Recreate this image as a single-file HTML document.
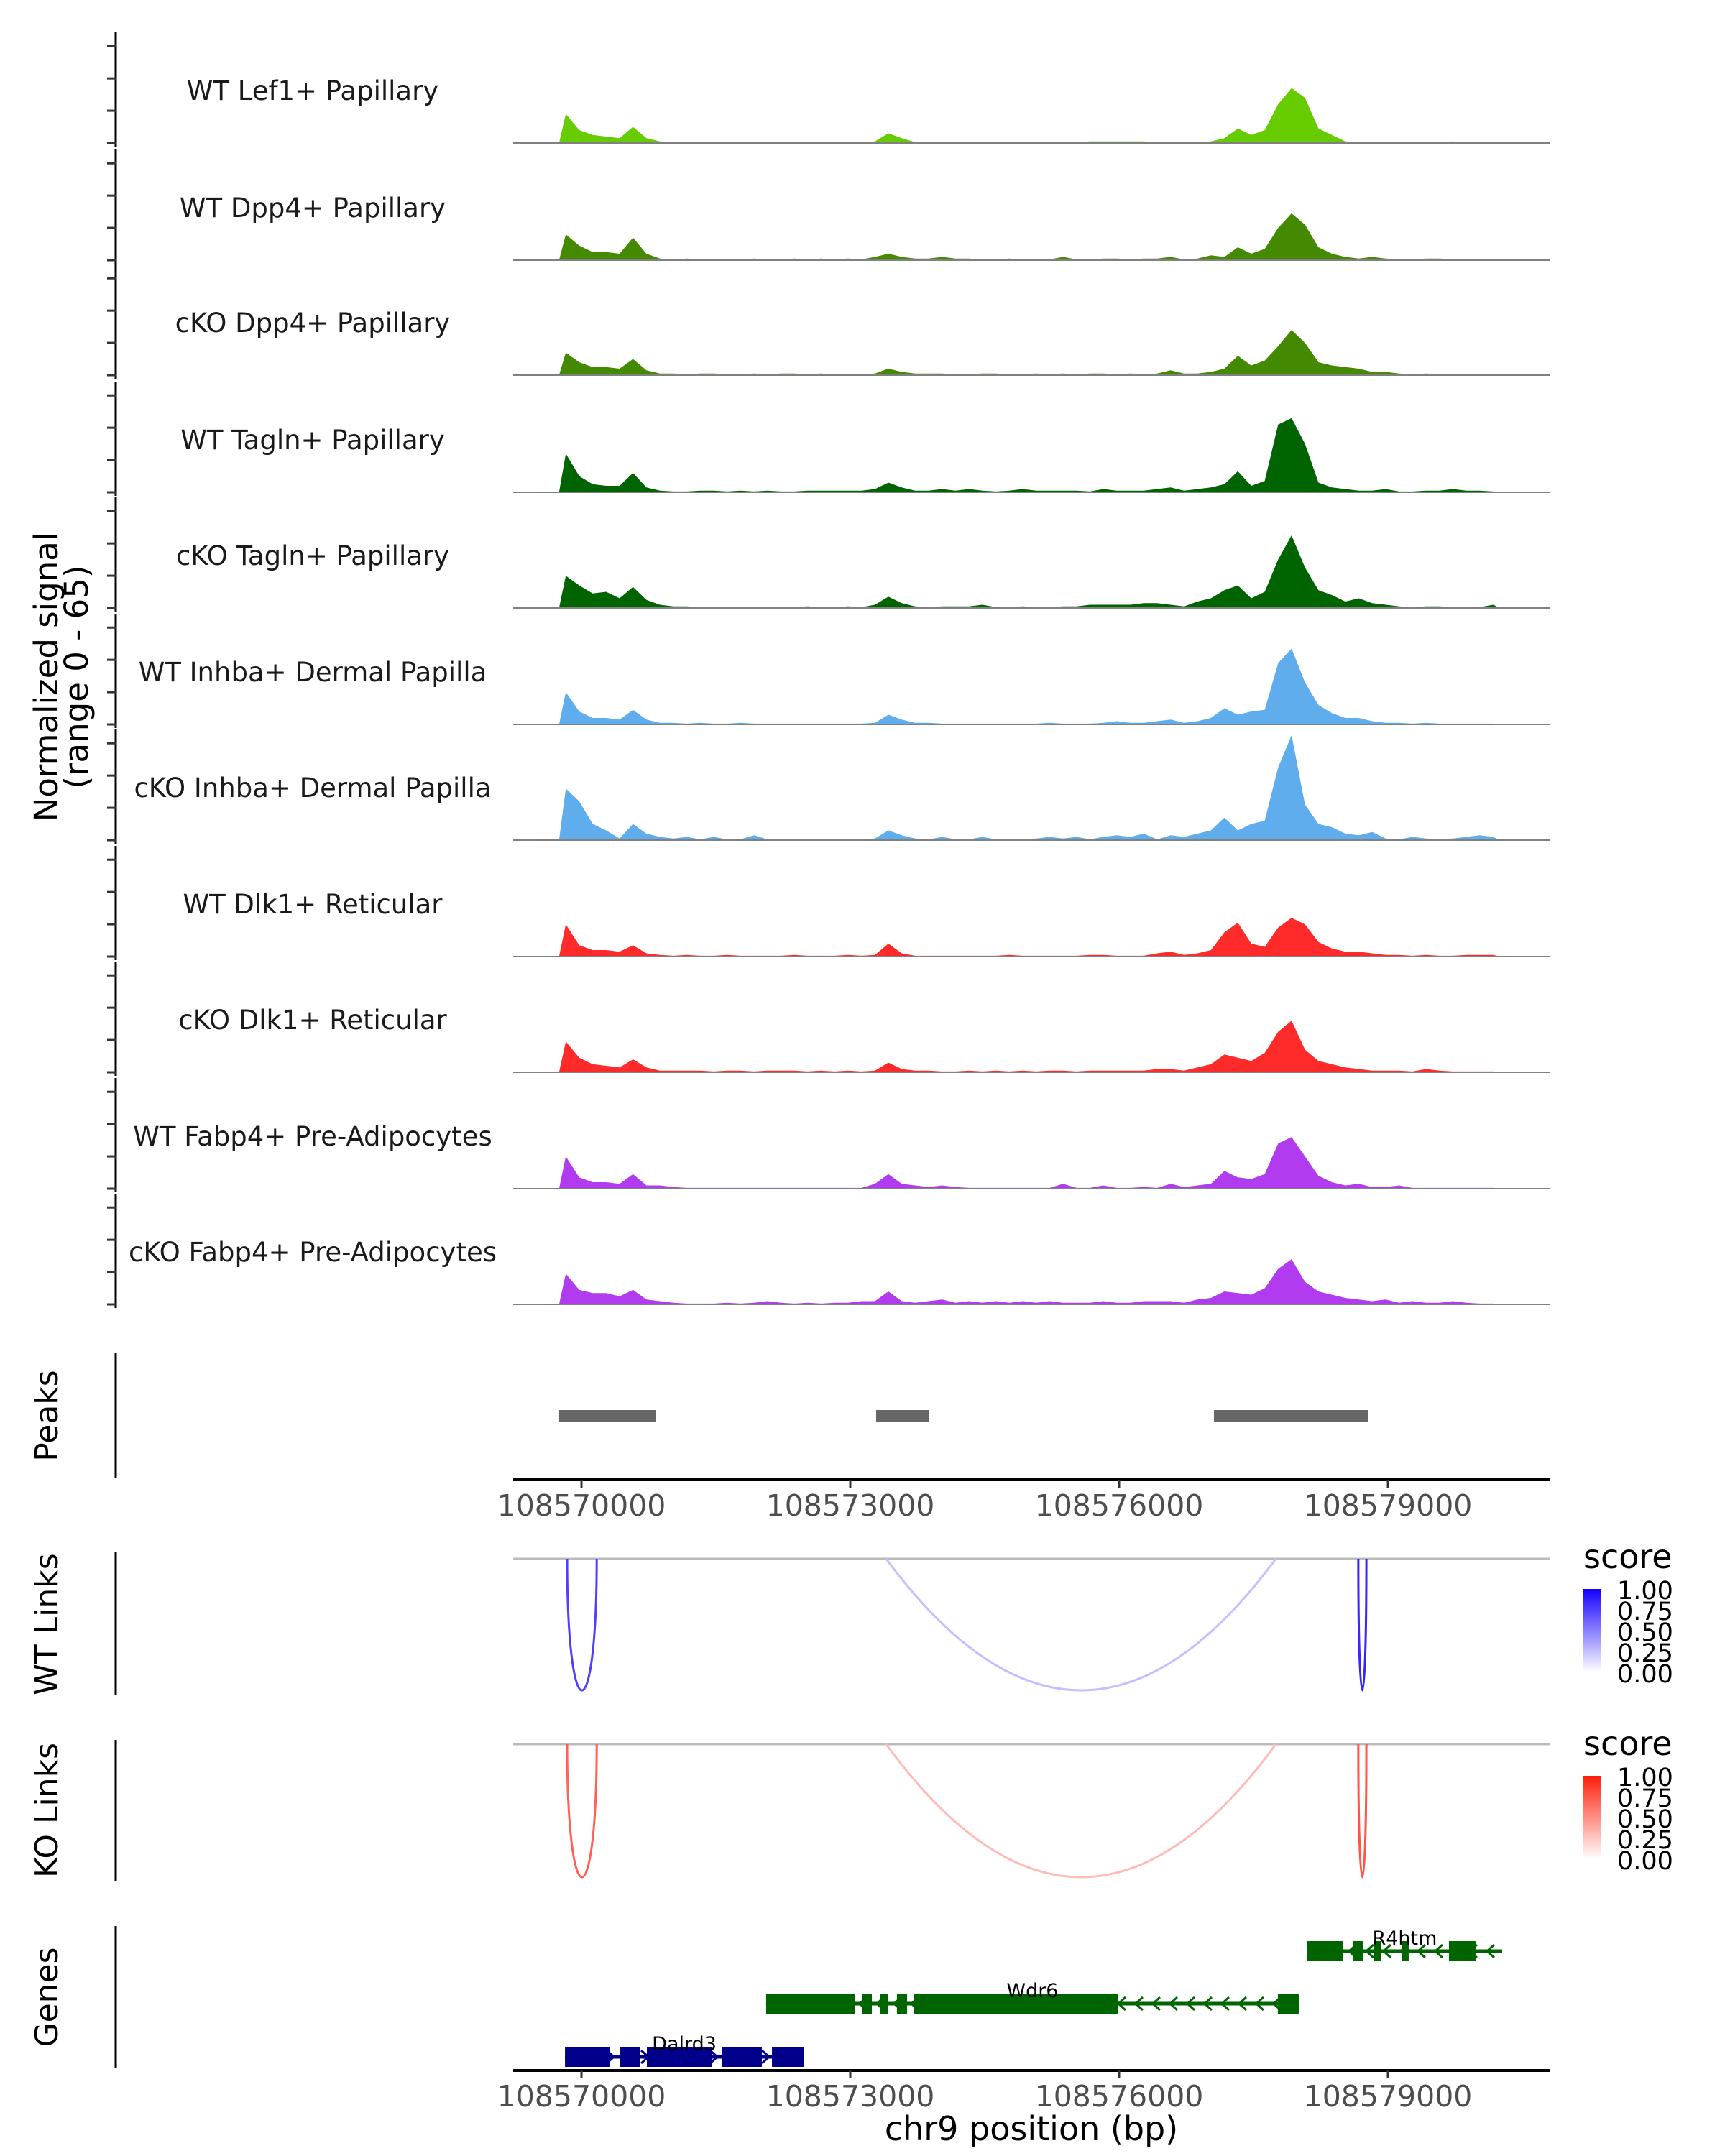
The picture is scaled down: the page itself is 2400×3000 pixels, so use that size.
<!DOCTYPE html>
<html><head><meta charset="utf-8"><style>
html,body{margin:0;padding:0;background:#fff;}
svg{display:block;font-family:"DejaVu Sans","Liberation Sans",sans-serif;}
</style></head><body>
<svg id="chart" width="2400" height="3000" viewBox="0 0 2400 3000" xmlns="http://www.w3.org/2000/svg">
<text transform="translate(80,942) rotate(-90)" text-anchor="middle" font-size="45" fill="#000">Normalized signal</text>
<text transform="translate(122,942) rotate(-90)" text-anchor="middle" font-size="45" fill="#000">(range 0 - 65)</text>
<text transform="translate(80,1970) rotate(-90)" text-anchor="middle" font-size="44" fill="#000">Peaks</text>
<text transform="translate(80,2260) rotate(-90)" text-anchor="middle" font-size="44" fill="#000">WT Links</text>
<text transform="translate(80,2519) rotate(-90)" text-anchor="middle" font-size="44" fill="#000">KO Links</text>
<text transform="translate(80,2779) rotate(-90)" text-anchor="middle" font-size="44" fill="#000">Genes</text>
<text x="1435" y="2978" text-anchor="middle" font-size="46" fill="#000">chr9 position (bp)</text>
</svg>
<script>
const trackNames = ["WT Lef1+ Papillary","WT Dpp4+ Papillary","cKO Dpp4+ Papillary","WT Tagln+ Papillary","cKO Tagln+ Papillary","WT Inhba+ Dermal Papilla","cKO Inhba+ Dermal Papilla","WT Dlk1+ Reticular","cKO Dlk1+ Reticular","WT Fabp4+ Pre-Adipocytes","cKO Fabp4+ Pre-Adipocytes"];
const trackColors = ["#66cc00","#448a00","#448a00","#006400","#006400","#5fadec","#5fadec","#ff2a2a","#ff2a2a","#b13cef","#b13cef"];
const binStart = 108569750;
const binSize = 150;
const sigLef1WT = [18,8,5,4,3,10,3,1,0.5,0.5,0.5,0.5,0.5,0.5,0.5,0.5,0.5,0.5,0.5,0.5,0.5,0.5,0.5,1,6,3,0.5,0.5,0.5,0.5,0.5,0.5,0.5,0.5,0.5,0.5,0.5,0.5,0.5,1,1,1,1,1,0.5,0.5,0.5,0.5,1,3,9,5,8,24,34,28,9,5,1,0.5,0.5,0.5,0.5,0.5,0.5,0.5,1,0.5,0.5,0.5];
const sigDpp4WT = [16,9,5,5,4,14,4,1,0.5,1,0.5,0.5,0.5,0.5,1,0.5,0.5,1,0.5,1,0.5,1,0.5,2,4,2,1,1,2,1,1,0.5,0.5,1,0.5,0.5,0.5,2,0.5,0.5,1,1,0.5,1,1,2,0.5,1,3,2,8,4,7,20,29,22,8,4,2,1,2,1,0.5,0.5,1,1,0.5,0.5,0.5,0.5];
const sigDpp4KO = [14,8,5,5,4,10,3,1,1,0.5,1,1,0.5,0.5,1,0.5,1,1,0.5,1,0.5,0.5,0.5,1,4,2,1,1,1,0.5,0.5,1,1,0.5,0.5,1,0.5,1,0.5,1,1,0.5,1,0.5,1,3,1,1,2,4,12,6,9,18,28,20,8,6,5,4,2,2,1,0.5,1,0.5,0.5,0.5,0.5,0.5];
const sigTaglnWT = [24,10,5,4,4,12,3,1,0.5,0.5,1,1,0.5,1,0.5,1,0.5,0.5,1,1,1,1,1,2,6,3,1,1,2,1,2,1,0.5,1,2,1,1,1,1,0.5,2,1,1,1,2,3,1,2,3,5,13,4,7,42,46,30,6,3,2,1,1,2,0.5,0.5,1,1,2,1,1,0.5];
const sigTaglnKO = [20,14,9,10,6,13,5,2,1,1,0.5,0.5,0.5,0.5,0.5,0.5,0.5,0.5,1,0.5,0.5,1,0.5,2,7,3,1,0.5,1,1,1,2,0.5,0.5,1,0.5,0.5,1,1,2,2,2,2,3,3,2,1,4,6,11,14,6,10,30,45,25,11,8,4,6,3,2,1,0.5,1,1,0.5,0.5,0.5,2];
const sigInhbaWT = [20,8,4,4,3,9,3,1,1,0.5,1,0.5,0.5,1,0.5,0.5,0.5,0.5,0.5,0.5,0.5,0.5,0.5,1,6,3,1,1,0.5,0.5,0.5,0.5,0.5,0.5,0.5,0.5,1,0.5,0.5,0.5,1,2,1,1,2,3,1,2,4,10,6,8,9,38,47,26,12,7,4,4,2,1,1,0.5,1,0.5,0.5,0.5,0.5,0.5];
const sigInhbaKO = [32,24,10,6,1,10,4,2,1,2,0.5,2,0.5,0.5,3,0.5,0.5,0.5,0.5,0.5,0.5,0.5,0.5,1,6,3,1,0.5,2,0.5,0.5,2,0.5,0.5,0.5,1,2,1,2,0.5,2,3,2,4,0.5,3,2,4,6,14,6,10,12,45,65,22,10,8,4,3,5,1,0.5,2,1,0.5,1,2,3,2];
const sigDlk1WT = [20,7,4,4,3,7,2,1,0.5,1,0.5,0.5,1,0.5,0.5,0.5,0.5,1,0.5,0.5,0.5,1,0.5,1,8,2,0.5,0.5,0.5,0.5,0.5,0.5,0.5,1,0.5,0.5,0.5,0.5,0.5,1,1,0.5,0.5,0.5,2,3,1,2,4,15,21,8,6,18,24,20,9,5,3,3,2,1,1,0.5,1,0.5,0.5,1,1,1];
const sigDlk1KO = [19,9,5,4,3,8,3,1,1,1,1,0.5,1,1,0.5,1,1,1,0.5,1,0.5,1,0.5,1,6,2,1,1,0.5,0.5,1,0.5,1,0.5,1,0.5,1,1,0.5,1,1,1,1,1,2,2,1,3,5,11,9,7,12,25,32,14,7,5,3,2,1,1,1,0.5,2,1,0.5,0.5,0.5,0.5];
const sigFabp4WT = [20,7,4,4,3,9,2,2,1,0.5,0.5,0.5,0.5,0.5,0.5,0.5,0.5,0.5,0.5,0.5,0.5,0.5,0.5,3,9,3,2,1,2,1,0.5,0.5,0.5,0.5,0.5,0.5,0.5,3,0.5,0.5,2,0.5,0.5,1,0.5,3,1,2,3,11,7,6,9,28,32,20,8,4,2,3,1,1,2,0.5,0.5,0.5,0.5,0.5,0.5,0.5];
const sigFabp4KO = [19,9,7,7,5,9,3,2,1,0.5,0.5,0.5,1,0.5,1,2,1,0.5,1,0.5,1,1,2,2,8,2,1,2,3,1,2,1,2,1,2,1,2,1,1,1,2,1,1,2,2,2,1,3,4,8,7,6,10,22,28,14,8,6,4,3,2,3,1,2,1,1,2,1,0.5,0.5];
const signals = [sigLef1WT,sigDpp4WT,sigDpp4KO,sigTaglnWT,sigTaglnKO,sigInhbaWT,sigInhbaKO,sigDlk1WT,sigDlk1KO,sigFabp4WT,sigFabp4KO];
const xTicks = [108570000,108573000,108576000,108579000];
const xTickLabels = ["108570000","108573000","108576000","108579000"];
const peakStarts = [108569751,108573289,108577059];
const peakEnds = [108570834,108573882,108578783];
const wtLinkStarts = [108569840,108573400,108578670];
const wtLinkEnds = [108570170,108577750,108578760];
const wtLinkScores = [0.75,0.25,0.85];
const koLinkStarts = [108569840,108573400,108578670];
const koLinkEnds = [108570170,108577750,108578760];
const koLinkScores = [0.7,0.3,0.75];
const legendLabels = ["1.00","0.75","0.50","0.25","0.00"];
const geneNames = ["Dalrd3","Wdr6","R4htm"];
const geneStarts = [108569816,108572061,108578101];
const geneEnds = [108572479,108578005,108580275];
const dalrd3ExonStarts = [108569816,108570433,108570730,108571564,108572126];
const dalrd3ExonEnds = [108570313,108570650,108571460,108572013,108572479];
const wdr6ExonStarts = [108572061,108573136,108573337,108573521,108573706,108577772];
const wdr6ExonEnds = [108573056,108573241,108573425,108573634,108575992,108578005];
const r4htmExonStarts = [108578101,108578615,108578847,108579152,108579681];
const r4htmExonEnds = [108578502,108578719,108578927,108579232,108579978];
const geneExonStarts = [dalrd3ExonStarts,wdr6ExonStarts,r4htmExonStarts];
const geneExonEnds = [dalrd3ExonEnds,wdr6ExonEnds,r4htmExonEnds];
const geneStrands = [1,-1,-1];
const geneColors = ["#00008b","#006400","#006400"];

const NS = "http://www.w3.org/2000/svg";
const svg = document.getElementById("chart");
const PX0 = 714, PX1 = 2156;
function xs(bp){ return 809 + (bp - 108570000) * 0.124667; }
const unitPx = 146/65;
function mk(tag, attrs, parent){
  const e = document.createElementNS(NS, tag);
  for (const k in attrs) e.setAttribute(k, attrs[k]);
  (parent||svg).appendChild(e);
  return e;
}

const baselines = [199,362,522,685,846,1008,1169,1331,1492,1654,1815];
for (let t = 0; t < signals.length; t++){
  const b = baselines[t];
  const g = mk("g", {});
  
  
  const vals = signals[t];
  let d = "M" + xs(binStart).toFixed(1) + "," + b;
  for (let i = 0; i < vals.length; i++){
    const x = xs(binStart + (i + 0.5) * binSize);
    d += " L" + x.toFixed(1) + "," + (b - vals[i] * unitPx).toFixed(1);
  }
  d += " L" + xs(binStart + vals.length * binSize).toFixed(1) + "," + b + " Z";
  const area = mk("path", {d: d, fill: trackColors[t]}, g);
  
  
  const base = mk("line", {x1: PX0, x2: PX1, y1: b, y2: b, stroke: "#808080", "stroke-width": 2}, g);
  
  
  const lbl = mk("text", {x: 435, y: b - 60, "text-anchor": "middle", "font-size": 37, fill: "#1a1a1a"}, g);
  lbl.textContent = trackNames[t];
  
  
  const ax = mk("line", {x1: 161, x2: 161, y1: b - 154, y2: b + 5, stroke: "#000", "stroke-width": 3}, g);
  
  
  for (let v = 0; v <= 60; v += 20){
    const tk = mk("line", {x1: 149, x2: 161, y1: b - v * unitPx, y2: b - v * unitPx, stroke: "#333", "stroke-width": 3}, g);
    
    
  }
}

const pAx = mk("line", {x1: 161, x2: 161, y1: 1883, y2: 2057, stroke: "#000", "stroke-width": 3});


for (let i = 0; i < peakStarts.length; i++){
  const r = mk("rect", {x: xs(peakStarts[i]), y: 1962, width: xs(peakEnds[i]) - xs(peakStarts[i]), height: 17, fill: "#666"});
  
  
}
function xAxis(y, labelY, name){
  const l = mk("line", {x1: PX0, x2: PX1, y1: y, y2: y, stroke: "#000", "stroke-width": 4});
  
  
  for (let i = 0; i < xTicks.length; i++){
    const x = xs(xTicks[i]);
    const tk = mk("line", {x1: x, x2: x, y1: y, y2: y + 11, stroke: "#333", "stroke-width": 3});
    
    
    const tl = mk("text", {x: x, y: labelY, "text-anchor": "middle", "font-size": 41, fill: "#4d4d4d"});
    tl.textContent = xTickLabels[i];
    
    
  }
}
xAxis(2059, 2109, 'peaks-x-axis');

function linkPanel(starts, ends, scores, y0, yb, axTop, axBot, hi, legY, name){
  const ax = mk("line", {x1: 161, x2: 161, y1: axTop, y2: axBot, stroke: "#000", "stroke-width": 3});
  
  
  const hl = mk("line", {x1: PX0, x2: PX1, y1: y0, y2: y0, stroke: "#bbbbbb", "stroke-width": 3});
  
  
  function col(s){
    const r = Math.round(255 + (hi[0] - 255) * s), g = Math.round(255 + (hi[1] - 255) * s), b = Math.round(255 + (hi[2] - 255) * s);
    return "rgb(" + r + "," + g + "," + b + ")";
  }
  for (let i = 0; i < starts.length; i++){
    const x1 = xs(starts[i]), x2 = xs(ends[i]);
    const narrow = (x2 - x1) < 100;
    let d;
    if (narrow){
      const c = y0 + (yb - y0) / 0.75;
      d = "M" + x1 + "," + y0 + " C" + x1 + "," + c + " " + x2 + "," + c + " " + x2 + "," + y0;
    } else {
      const c = y0 + (yb - y0) * 2;
      d = "M" + x1 + "," + y0 + " Q" + ((x1 + x2) / 2) + "," + c + " " + x2 + "," + y0;
    }
    const p = mk("path", {d: d, fill: "none", stroke: col(scores[i]), "stroke-width": 3});
    
    
  }
  const gid = name + "-grad";
  const defs = mk("defs", {});
  const lg = mk("linearGradient", {id: gid, x1: 0, y1: 1, x2: 0, y2: 0}, defs);
  mk("stop", {offset: "0", "stop-color": "#ffffff"}, lg);
  mk("stop", {offset: "1", "stop-color": col(1)}, lg);
  const lt = mk("text", {x: 2203, y: legY, "font-size": 46, fill: "#000"});
  lt.textContent = "score";
  
  
  const bar = mk("rect", {x: 2203, y: legY + 29, width: 24, height: 116, fill: "url(#" + gid + ")"});
  
  
  for (let i = 0; i < legendLabels.length; i++){
    const ly = legY + 30 + i * 29;
    const t = mk("text", {x: 2250, y: ly + 13, "font-size": 35, fill: "#000"});
    t.textContent = legendLabels[i];
    
    
  }
}
linkPanel(wtLinkStarts, wtLinkEnds, wtLinkScores, 2169, 2352, 2159, 2359, [20,0,255], 2182, 'wt-links');
linkPanel(koLinkStarts, koLinkEnds, koLinkScores, 2427, 2612, 2421, 2618, [255,30,10], 2442, 'ko-links');

const gAx = mk("line", {x1: 161, x2: 161, y1: 2680, y2: 2877, stroke: "#000", "stroke-width": 3});


const geneY = [2862, 2788, 2715];
for (let gi = 0; gi < geneNames.length; gi++){
  const y = geneY[gi], c = geneColors[gi];
  const g = mk("g", {});
  
  
  const x1 = xs(geneStarts[gi]), x2 = xs(geneEnds[gi]);
  mk("line", {x1: x1, x2: x2, y1: y, y2: y, stroke: c, "stroke-width": 5}, g);
  for (let x = x1 + 15; x < x2 - 5; x += 24){
    const dir = geneStrands[gi];
    mk("path", {d: "M" + (x - 5 * dir) + "," + (y - 9) + " L" + (x + 5 * dir) + "," + y + " L" + (x - 5 * dir) + "," + (y + 9), fill: "none", stroke: c, "stroke-width": 3}, g);
  }
  const es = geneExonStarts[gi], ee = geneExonEnds[gi];
  for (let i = 0; i < es.length; i++){
    const r = mk("rect", {x: xs(es[i]), y: y - 14, width: xs(ee[i]) - xs(es[i]), height: 28, fill: c}, g);
    
    
  }
  const lbl = mk("text", {x: (x1 + x2) / 2, y: y - 9, "text-anchor": "middle", "font-size": 27, fill: "#000"}, g);
  lbl.textContent = geneNames[gi];
  
  
}
xAxis(2881, 2931, 'genes-x-axis');
</script>
</body></html>
